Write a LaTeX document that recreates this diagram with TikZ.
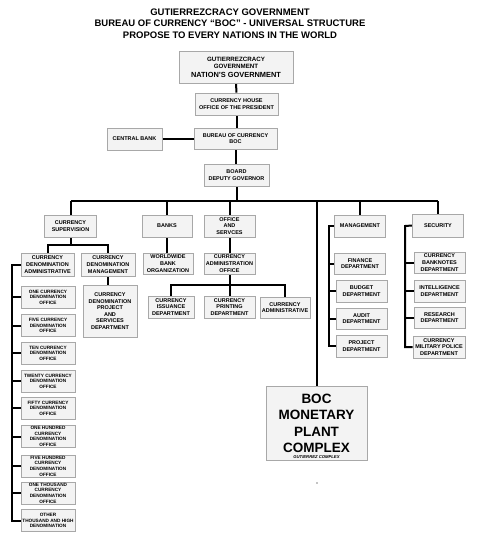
\documentclass[tikz,border=0pt]{standalone}
\usepackage{fontspec}
\setmainfont{Liberation Sans}
\usetikzlibrary{positioning,backgrounds}
\definecolor{boxfill}{HTML}{F3F3F3}
\definecolor{boxline}{HTML}{A8A8A8}
\begin{document}
\begin{tikzpicture}[x=1pt, y=-1pt,
  box/.style={draw=boxline, fill=boxfill, line width=0.8pt, inner sep=0pt, align=center,
    font=\fontsize{5.5}{6.7}\selectfont\bfseries},
  boxsize/.style 2 args={minimum width=#1pt, minimum height=#2pt},
  denom/.style={box, boxsize={54}{22}, font=\fontsize{4.7}{5.6}\selectfont\bfseries},
  link/.style={line width=2pt}]
\useasboundingbox (0,0) rectangle (478,542);

% heading
\node[align=center, font=\fontsize{9.5}{11.5}\selectfont\bfseries] (title) at (230,23.5)
  {GUTIERREZCRACY GOVERNMENT\\BUREAU OF CURRENCY ``BOC'' - UNIVERSAL STRUCTURE\\PROPOSE TO EVERY NATIONS IN THE WORLD};

% top chain
\node[box, boxsize={114}{32}, font=\fontsize{6.2}{7.8}\selectfont\bfseries] (gov) at (236,67)
  {GUTIERREZCRACY\\GOVERNMENT\\[0.6pt]\fontsize{7.4}{7.8}\selectfont NATION'S GOVERNMENT};
\node[box, boxsize={83}{22}] (house) at (236.5,104) {CURRENCY HOUSE\\OFFICE OF THE PRESIDENT};
\node[box, boxsize={83}{21}] (bureau) at (235.5,138.5) {BUREAU OF CURRENCY\\BOC};
\node[box, boxsize={55}{22}] (central) at (134.5,139) {CENTRAL BANK};
\node[box, boxsize={65}{22}] (board) at (236.5,175) {BOARD\\DEPUTY GOVERNOR};

% second row
\node[box, boxsize={52}{22}] (superv) at (70.5,226) {CURRENCY\\SUPERVISION};
\node[box, boxsize={50}{22}] (banks) at (167,226) {BANKS};
\node[box, boxsize={51}{22}] (office) at (229.5,226) {OFFICE\\AND\\SERVCES};
\node[box, boxsize={51}{22}] (mgmt) at (360,226) {MANAGEMENT};
\node[box, boxsize={51}{23}] (secur) at (438,225.5) {SECURITY};

% currency supervision
\node[box, boxsize={53}{23}] (cdadmin) at (47.5,264.5) {CURRENCY\\DENOMINATION\\ADMINISTRATIVE};
\node[box, boxsize={54}{23}] (cdmgmt) at (108,264.5) {CURRENCY\\DENOMINATION\\MANAGEMENT};
\node[box, boxsize={54}{52}, font=\fontsize{5.5}{6.6}\selectfont\bfseries] (cdproj) at (110,311)
  {CURRENCY\\DENOMINATION\\PROJECT\\AND\\SERVICES\\DEPARTMENT};

\node[denom] (one) at (48,297) {ONE CURRENCY\\DENOMINATION\\OFFICE};
\node[denom] (five) at (48,325.5) {FIVE CURRENCY\\DENOMINATION\\OFFICE};
\node[denom] (ten) at (48,353) {TEN CURRENCY\\DENOMINATION\\OFFICE};
\node[denom] (twenty) at (48,381) {TWENTY CURRENCY\\DENOMINATION\\OFFICE};
\node[denom] (fifty) at (48,408) {FIFTY CURRENCY\\DENOMINATION\\OFFICE};
\node[denom] (hundred) at (48,436.5) {ONE HUNDRED\\CURRENCY\\DENOMINATION\\OFFICE};
\node[denom] (fivehundred) at (48,466) {FIVE HUNDRED\\CURRENCY\\DENOMINATION\\OFFICE};
\node[denom] (thousand) at (48,493) {ONE THOUSAND\\CURRENCY\\DENOMINATION\\OFFICE};
\node[denom] (other) at (48,520.5) {OTHER\\THOUSAND AND HIGH\\DENOMINATION};

% banks, office and services
\node[box, boxsize={50}{21}] (wwbank) at (168,263.5) {WORLDWIDE\\BANK\\ORGANIZATION};
\node[box, boxsize={51}{21}] (admoffice) at (229.5,263.5) {CURRENCY\\ADMINISTRATION\\OFFICE};
\node[box, boxsize={46}{22}] (issuance) at (171,307) {CURRENCY\\ISSUANCE\\DEPARTMENT};
\node[box, boxsize={51}{22}] (printing) at (229.5,307) {CURRENCY\\PRINTING\\DEPARTMENT};
\node[box, boxsize={50}{21}] (cadmin) at (285,307.5) {CURRENCY\\ADMINISTRATIVE};

% management
\node[box, boxsize={51}{21}] (finance) at (360,263.5) {FINANCE\\DEPARTMENT};
\node[box, boxsize={51}{22}] (budget) at (361.5,291) {BUDGET\\DEPARTMENT};
\node[box, boxsize={51}{21}] (audit) at (361.5,318.5) {AUDIT\\DEPARTMENT};
\node[box, boxsize={51}{22}] (project) at (361.5,346) {PROJECT\\DEPARTMENT};

% security
\node[box, boxsize={51}{21}] (banknotes) at (439.5,262.5) {CURRENCY\\BANKNOTES\\DEPARTMENT};
\node[box, boxsize={51}{22}] (intel) at (439.5,291) {INTELLIGENCE\\DEPARTMENT};
\node[box, boxsize={51}{21}] (research) at (439.5,317.5) {RESEARCH\\DEPARTMENT};
\node[box, boxsize={52}{22}] (milpol) at (439,347) {CURRENCY\\MILITARY POLICE\\DEPARTMENT};

% plant
\node[box, boxsize={101}{74}, font=\fontsize{13.5}{16.5}\selectfont\bfseries] (boc) at (316.5,423.5)
  {BOC\\MONETARY\\PLANT\\COMPLEX};
\node[inner sep=0pt, font=\fontsize{4.2}{5}\selectfont\bfseries\itshape, above=1.8pt of boc.south] (bocsub) {GUTIERREZ COMPLEX};
\fill (317,483) circle (0.6pt);

\coordinate (busy) at (0,201);
\coordinate (svj) at (0,245);
\coordinate (ofj) at (0,285);
\coordinate (lb) at (12,264.5);
\coordinate (mb) at (329,226);
\coordinate (sb) at (405,226);

\begin{scope}[on background layer]
\draw[link] (gov.south) -- (house.north);
\draw[link] (house.south) -- (house.south |- bureau.north);
\draw[link] (bureau.south) -- (bureau.south |- board.north);
\draw[link] (central.east) -- (central.east -| bureau.west);
\draw[link] (board.south) -- (board.south |- busy);
\draw[link] (superv.north |- busy) -- (secur.north |- busy);
\foreach \nm in {superv,banks,office,boc,mgmt,secur}
  \draw[link] (\nm.north) -- (\nm.north |- busy);

\draw[link] (superv.south) -- (superv.south |- svj);
\draw[link] (cdadmin.north) -- (cdadmin.north |- svj) -- (cdmgmt.north |- svj) -- (cdmgmt.north);
\draw[link] (cdmgmt.south) -- (cdmgmt.south |- cdproj.north);
\draw[link] (cdadmin.west) -- (lb) -- (lb |- other.west) -- (other.west);
\foreach \nm in {one,five,ten,twenty,fifty,hundred,fivehundred,thousand}
  \draw[link] (\nm.west) -- (\nm.west -| lb);

\draw[link] (banks.south) -- (banks.south |- wwbank.north);
\draw[link] (office.south) -- (admoffice.north);
\draw[link] (admoffice.south) -- (admoffice.south |- ofj);
\draw[link] (issuance.north) -- (issuance.north |- ofj) -- (cadmin.north |- ofj) -- (cadmin.north);
\draw[link] (printing.north) -- (printing.north |- ofj);

\draw[link] (mgmt.west) -- (mb) -- (mb |- project.west) -- (project.west);
\foreach \nm in {finance,budget,audit}
  \draw[link] (\nm.west) -- (\nm.west -| mb);
\draw[link] (secur.west) -- (sb) -- (sb |- milpol.west) -- (milpol.west);
\foreach \nm in {banknotes,intel,research}
  \draw[link] (\nm.west) -- (\nm.west -| sb);
\end{scope}
\end{tikzpicture}
\end{document}
